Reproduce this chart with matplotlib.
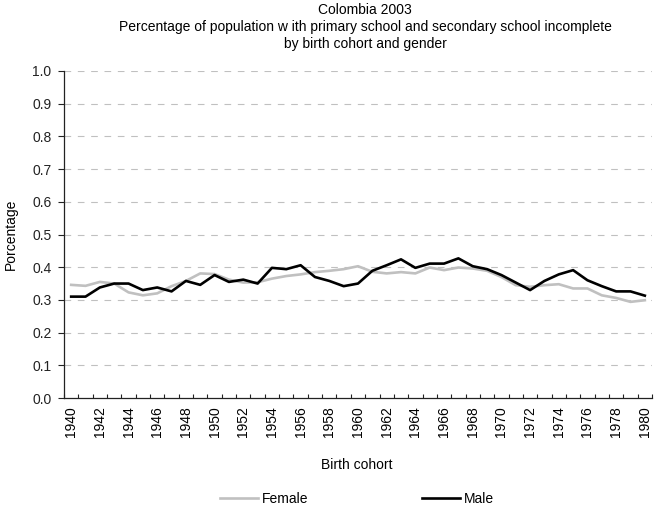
import numpy as np
import matplotlib
matplotlib.use("Agg")
import matplotlib.pyplot as plt

# Birth cohorts 1940-1980
years = list(range(1940, 1981))

female = [0.346, 0.343, 0.355, 0.350, 0.323, 0.314, 0.320, 0.342, 0.358, 0.381,
          0.379, 0.362, 0.353, 0.354, 0.365, 0.373, 0.378, 0.385, 0.389, 0.394,
          0.403, 0.386, 0.381, 0.385, 0.381, 0.399, 0.391, 0.399, 0.396, 0.389,
          0.370, 0.345, 0.340, 0.345, 0.348, 0.335, 0.335, 0.314, 0.306, 0.294,
          0.299]

male = [0.310, 0.310, 0.338, 0.350, 0.350, 0.330, 0.338, 0.326, 0.358, 0.346,
        0.376, 0.355, 0.362, 0.350, 0.398, 0.394, 0.406, 0.370, 0.358, 0.342,
        0.350, 0.389, 0.406, 0.424, 0.398, 0.411, 0.411, 0.427, 0.403, 0.394,
        0.376, 0.353, 0.330, 0.358, 0.378, 0.391, 0.360, 0.342, 0.326, 0.326,
        0.313]

title_lines = ["Colombia 2003",
               "Percentage of population w ith primary school and secondary school incomplete",
               "by birth cohort and gender"]

plt.rcParams['font.family'] = ['Liberation Sans', 'DejaVu Sans']
FS = 10

fig = plt.figure(figsize=(6.58, 5.09), dpi=100)
ax = fig.add_axes([64 / 658, 1 - 398 / 509, 588 / 658, 327 / 509])

x = np.arange(len(years))
ax.plot(x, female, color='#c0c0c0', lw=1.9, label='Female', zorder=3)
ax.plot(x, male, color='black', lw=1.9, label='Male', zorder=4)

ax.set_xlim(-0.5, len(years) - 0.5)
ax.set_ylim(0, 1.0)

# y axis
yt = np.round(np.arange(0, 1.01, 0.1), 1)
ax.set_yticks(yt)
ax.set_yticklabels([f"{v:.1f}" for v in yt], fontsize=FS)
ax.tick_params(axis='y', direction='out', length=4, width=0.8, pad=5, colors='#222222')
for v in yt[1:]:
    ax.axhline(v, color='#c0c0c0', lw=0.8, dashes=(6, 6), zorder=1)

# x axis: labels on every other cohort, tick marks between categories
ax.set_xticks(x[::2])
ax.set_xticklabels([str(y) for y in years[::2]], rotation=90, fontsize=FS)
ax.tick_params(axis='x', which='major', length=0, pad=6)
ax.set_xticks(np.arange(-0.5, len(years)), minor=True)
ax.tick_params(axis='x', which='minor', direction='in', length=3, width=0.8, color='#222222')

for s in ['top', 'right']:
    ax.spines[s].set_visible(False)
for s in ['left', 'bottom']:
    ax.spines[s].set_color('#222222')
    ax.spines[s].set_linewidth(0.9)

ax.set_ylabel('Porcentage', fontsize=FS)
ax.yaxis.set_label_coords(-0.078, 0.5)
fig.text(357 / 658, 1 - 465 / 509, 'Birth cohort', ha='center', va='center', fontsize=FS)

fig.text(365 / 658, 1 - 27 / 509, "\n".join(title_lines), ha='center', va='center',
         fontsize=FS, linespacing=1.28)

fig.legend(loc='center', bbox_to_anchor=(357 / 658, 1 - 499 / 509), ncol=2, frameon=False,
           fontsize=FS, handlelength=2.7, handletextpad=0.3, columnspacing=8.2)

fig.savefig('out.png', dpi=100)
